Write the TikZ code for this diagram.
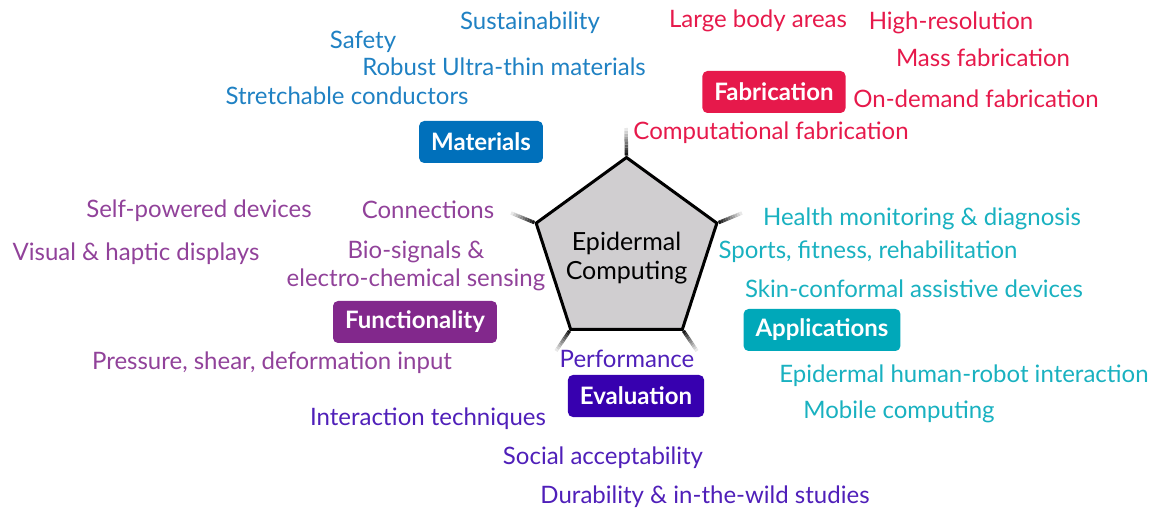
\documentclass[tikz,border=0pt]{standalone}
\usepackage{fontspec}
\setmainfont{Lato}
\usepackage{tikz}
\usetikzlibrary{positioning,%
  shapes.geometric,%
  calc}

\definecolor{matblue}{HTML}{0070BB}
\definecolor{fabred}{HTML}{E6194B}
\definecolor{funpurple}{HTML}{82288C}
\definecolor{appteal}{HTML}{00A8B9}
\definecolor{evaindigo}{HTML}{3700AF}
\definecolor{pentgray}{HTML}{D0CED0}

\begin{document}
\begin{tikzpicture}
                    [x=1pt, y=-1pt,
                    lbl/.style={font=\fontsize{24}{28}\selectfont,
                        inner sep=0pt, anchor=base},
                    cat/.style={rounded corners=5pt,
                        text=white, minimum height=42pt, inner xsep=12pt,
                        font=\bfseries\fontsize{24}{28}\selectfont},
                    mat/.style={lbl, text=matblue!88!white},
                    fab/.style={lbl, text=fabred},
                    fun/.style={lbl, text=funpurple!88!white},
                    app/.style={lbl, text=appteal!90!white},
                    eva/.style={lbl, text=evaindigo!88!white},
                    spoke/.style={line width=3.5pt, line cap=butt}]

                    \useasboundingbox (0,0) rectangle (1151,510);

                    % centre
                    \node[regular polygon, regular polygon sides=5,
                        minimum size=190pt, inner sep=0pt,
                        draw, line width=3pt, fill=pentgray] at (626.5,252.5)
                        (pent) {};
                    \node[align=center, font=\fontsize{25}{29}\selectfont] at (626.5,258)
                        (title) {Epidermal\\Computing};

                    \coordinate (s1) at (626,128);
                    \coordinate (s2) at (511,213);
                    \coordinate (s3) at (556,351);
                    \coordinate (s4) at (697,351);
                    \coordinate (s5) at (742,213);
                    \foreach \k in {1,...,5}{
                      \foreach \i in {0,...,9}{
                        \pgfmathsetmacro{\ta}{\i/10}
                        \pgfmathsetmacro{\tb}{(\i+1)/10}
                        \pgfmathtruncatemacro{\gr}{90-9*\i}
                        \draw[spoke, black!\gr] ($(pent.corner \k)!\ta!(s\k)$)
                            -- ($(pent.corner \k)!\tb!(s\k)$);
                      }
                    }

                    % materials
                    \node[cat, fill=matblue] at (481,142)
                        (materials) {Materials};
                    \node[mat] at (530,30)
                        (sust) {Sustainability};
                    \node[mat] at (363,49)
                        (safety) {Safety};
                    \node[mat] at (504,76)
                        (robust) {Robust Ultra-thin materials};
                    \node[mat] at (347,105)
                        (stretch) {Stretchable conductors};

                    % fabrication
                    \node[cat, fill=fabred] at (774,92)
                        (fabrication) {Fabrication};
                    \node[fab] at (758,28)
                        (large) {Large body areas};
                    \node[fab] at (951,30)
                        (highres) {High-resolution};
                    \node[fab] at (983,67)
                        (mass) {Mass fabrication};
                    \node[fab] at (976,108)
                        (ondemand) {On-demand fabrication};
                    \node[fab] at (771,140)
                        (compfab) {Computational fabrication};

                    % functionality
                    \node[cat, fill=funpurple] at (415,322)
                        (functionality) {Functionality};
                    \node[fun] at (199,218)
                        (selfpow) {Self-powered devices};
                    \node[fun] at (428,219)
                        (conn) {Connections};
                    \node[fun] at (136,261)
                        (visual) {Visual \& haptic displays};
                    \node[fun] at (416,259)
                        (bio) {Bio-signals \&};
                    \node[fun] at (416,287)
                        (electro) {electro-chemical sensing};
                    \node[fun] at (272,370)
                        (pressure) {Pressure, shear, deformation input};

                    % applications
                    \node[cat, fill=appteal] at (822,330)
                        (applications) {Applications};
                    \node[app] at (922,226)
                        (health) {Health monitoring \& diagnosis};
                    \node[app] at (868,259)
                        (sports) {Sports, fitness, rehabilitation};
                    \node[app] at (914,298)
                        (skin) {Skin-conformal assistive devices};
                    \node[app] at (964,382)
                        (robot) {Epidermal human-robot interaction};
                    \node[app] at (899,418)
                        (mobile) {Mobile computing};

                    % evaluation
                    \node[cat, fill=evaindigo] at (636,396)
                        (evaluation) {Evaluation};
                    \node[eva] at (627,368)
                        (perf) {Performance};
                    \node[eva] at (428,425)
                        (inter) {Interaction techniques};
                    \node[eva] at (603,464)
                        (social) {Social acceptability};
                    \node[eva] at (705,503)
                        (dura) {Durability \& in-the-wild studies};
                \end{tikzpicture}
\end{document}
